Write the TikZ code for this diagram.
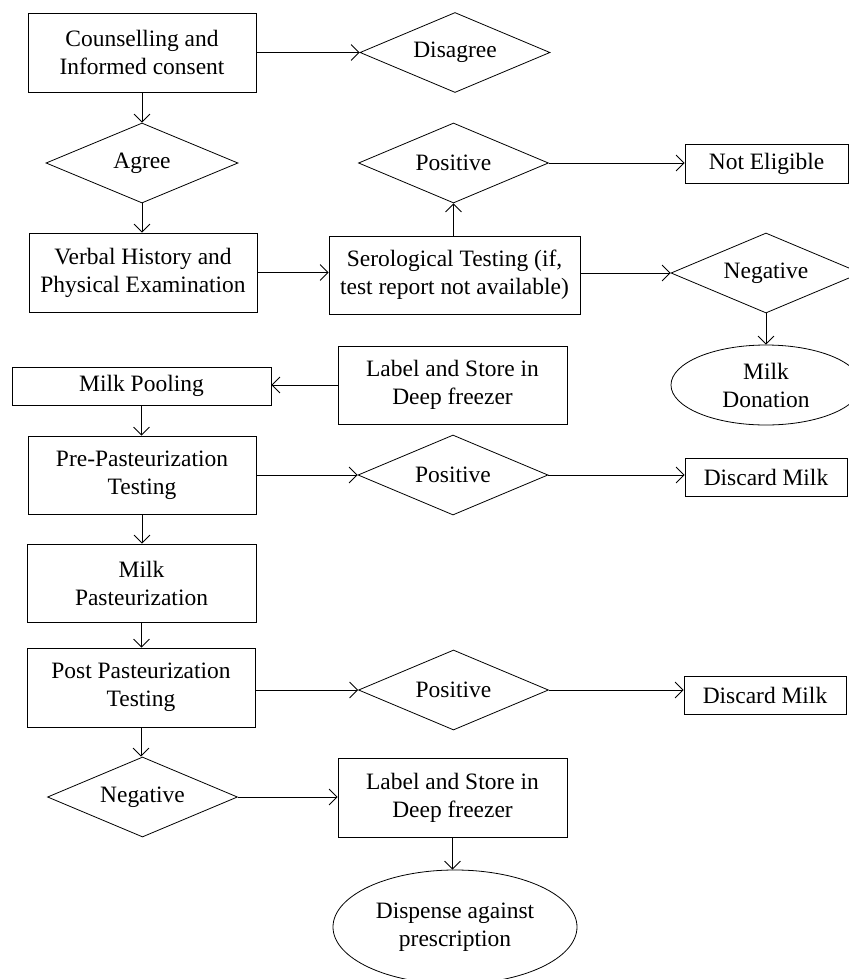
\documentclass[tikz,border=0pt]{standalone}
\usepackage{fontspec}
\setmainfont{Liberation Serif}
\usetikzlibrary{shapes.geometric,arrows.meta}
\begin{document}
\begin{tikzpicture}[x=0.75pt,y=-0.75pt,
  every node/.style={font=\fontsize{17.6}{21}\selectfont, align=center, line width=0.6pt},
  box/.style={draw, rectangle, inner sep=0pt},
  dia/.style={draw, diamond, aspect=2.4, inner sep=0pt, minimum width=142.5pt, minimum height=60pt},
  ell/.style={draw, ellipse, inner sep=0pt},
  arr/.style={draw, line width=0.6pt, -{Straight Barb[length=6pt,width=12pt,line width=0.6pt]}}
]
\useasboundingbox (0,0) rectangle (849,979);
% boxes
\node[box, minimum width=171pt, minimum height=59.25pt] (b1) at (142,52.5) {Counselling and\\Informed consent};
\node[box, minimum width=171pt, minimum height=59.25pt] (b2) at (143,272.5) {Verbal History and\\Physical Examination};
\node[box, minimum width=188.25pt, minimum height=58.5pt] (sero) at (454.5,275) {Serological Testing (if,\\test report not available)};
\node[box, minimum width=122.25pt, minimum height=29.25pt] (ne) at (766.5,163.5) {Not Eligible};
\node[box, minimum width=171.75pt, minimum height=58.5pt] (lab1) at (452.5,385) {Label and Store in\\Deep freezer};
\node[box, minimum width=194.25pt, minimum height=28.5pt] (pool) at (141.5,386) {Milk Pooling};
\node[box, minimum width=171pt, minimum height=58.5pt] (pre) at (142,475) {Pre-Pasteurization\\Testing};
\node[box, minimum width=121.5pt, minimum height=28.5pt] (d1) at (766,477) {Discard Milk};
\node[box, minimum width=171.75pt, minimum height=58.5pt] (mp) at (141.5,583) {Milk\\Pasteurization};
\node[box, minimum width=171pt, minimum height=59.25pt] (post) at (141,687.5) {Post Pasteurization\\Testing};
\node[box, minimum width=121.5pt, minimum height=28.5pt] (d2) at (765,695) {Discard Milk};
\node[box, minimum width=171.75pt, minimum height=59.25pt] (lab2) at (452.5,797.5) {Label and Store in\\Deep freezer};
% diamonds
\node[dia] (dis) at (455,52.5) {Disagree};
\node[dia, minimum width=144pt] (agree) at (142,163) {Agree};
\node[dia] (pos1) at (453.5,163) {Positive};
\node[dia] (neg1) at (766,273) {Negative};
\node[dia] (pos2) at (453,475) {Positive};
\node[dia] (pos3) at (453.5,690) {Positive};
\node[dia] (neg2) at (142.5,797) {Negative};
% ellipses
\node[ell, minimum width=142.5pt, minimum height=60pt] (don) at (766,385) {Milk\\Donation};
\node[ell, minimum width=183pt, minimum height=85.5pt] (disp) at (455,927) {Dispense against\\prescription};
% connectors
\draw[arr] (b1.east) -- (dis.west);
\draw[arr] (b1.south) -- (agree.north);
\draw[arr] (agree.south) -- (agree.south |- b2.north);
\draw[arr] (b2.east) -- (b2.east -| sero.west);
\draw[arr] (pos1.south |- sero.north) -- (pos1.south);
\draw[arr] (pos1.east) -- (pos1.east -| ne.west);
\draw[arr] (sero.east |- neg1.west) -- (neg1.west);
\draw[arr] (neg1.south) -- (don.north);
\draw[arr] (lab1.west) -- (lab1.west -| pool.east);
\draw[arr] (pool.south) -- (pool.south |- pre.north);
\draw[arr] (pre.east) -- (pre.east -| pos2.west);
\draw[arr] (pos2.east) -- (pos2.east -| d1.west);
\draw[arr] (pre.south) -- (pre.south |- mp.north);
\draw[arr] (mp.south) -- (mp.south |- post.north);
\draw[arr] (post.east |- pos3.west) -- (pos3.west);
\draw[arr] (pos3.east) -- (pos3.east -| d2.west);
\draw[arr] (post.south) -- (post.south |- neg2.north);
\draw[arr] (neg2.east) -- (neg2.east -| lab2.west);
\draw[arr] (lab2.south) -- (lab2.south |- disp.north);
\end{tikzpicture}
\end{document}
